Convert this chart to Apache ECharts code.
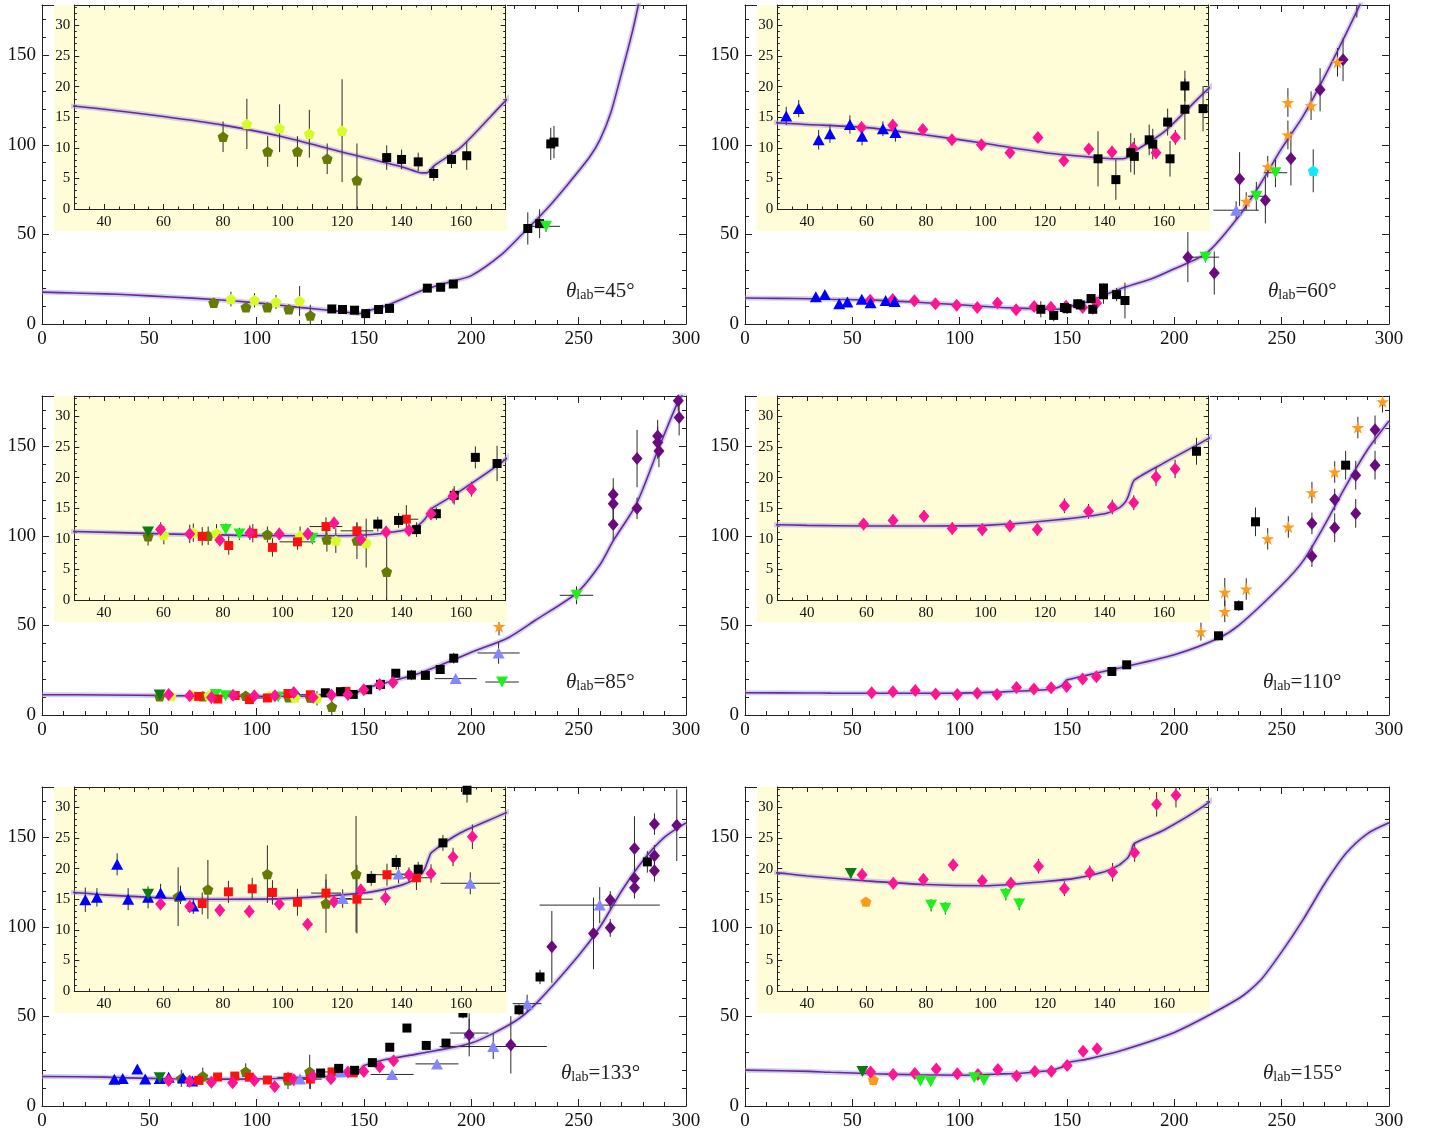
<!DOCTYPE html>
<html><head><meta charset="utf-8">
<script src="https://cdn.jsdelivr.net/npm/echarts@6/dist/echarts.min.js"></script>
<style>html,body{margin:0;padding:0;background:#fff}#c{width:1434px;height:1140px}</style>
</head><body><div id="c"></div>
<script>
// ---------- DATA: [x, y, yErr, xErr] ----------
// 45 deg
const t45_olive  = [[80,11.8,2.5],[95,9.4,2.5],[105,9.4,2.5],[115,8.2,2.5],[125,4.7,6]];
const t45_ygreen = [[88,13.9,4.1],[99,13.2,3.9],[109,12.3,3.9],[120,12.8,8.4]];
const t45_black  = [[135,8.4,2],[140,8.1,1.6],[145.6,7.7,1.5],[150.8,5.8,1.2],[156.8,8.1,1.4],[161.9,8.7,2.3],[179.5,20,1.5],[185.7,20.5,1.8],[191.6,22.3,2.2],[226.3,53.3,9],[231.8,56,8],[237,100.5,9],[238.5,101.5,9]];
const t45_lime   = [[234.8,54.5,3,6.5]];
const c45 = [[0,17.8],[15,17.3],[30,16.8],[40,16.3],[60,15.1],[80,13.7],[100,11.8],[120,9.3],[140,6.9],[145,6.1],[147,5.9],[148.5,5.9],[149.5,6.3],[151,7.1],[160,10.1],[175,17.7],[180,19.9],[190,23.5],[200,27],[214,38.7],[224,50.5],[235,64],[245,78],[255,93],[260,103],[265,118],[270,140],[275,163],[280,190]];
// 60 deg
const t60_blue   = [[33,15.2,1.5],[37.2,16.4,1.4],[43.9,11.3,1.6],[47.7,12.3,1.5],[54.4,13.8,1.5],[58.5,11.9,1.5],[65.5,13.1,1.2],[69.7,12.5,1.5]];
const t60_pink   = [[58.3,13.3,1],[68.8,13.7,1],[78.9,13,0.8],[88.7,11.3,0.8],[98.6,10.5,0.8],[108.2,9.2,0.8],[117.6,11.7,0.8],[126.3,7.9,0.8],[134.7,9.8,0.8],[142.5,9.3,1],[149.6,9.9,1],[157.3,9.2,1],[163.8,11.7,1.2]];
const t60_black  = [[137.8,8.2,4.5],[143.8,4.8,3.3],[148.8,9.2,3.2],[150,8.6,3],[155,11.3,2.5],[156.2,10.6,2.5],[161.2,14.2,2.2],[162,8.2,2.9],[167,20.1,2.5],[167,16.3,5],[173.1,16.4,3.7],[177,13.1,10]];
const t60_purple = [[206.3,37.3,14],[218.6,28.4,12],[230.4,80.9,15],[242.4,69.1,13],[254.3,92.3,15],[267.9,130.7,12],[278.6,147.5,12]];
const t60_lblue  = [[228.8,63.5,5,10.6]];
const t60_lime   = [[214.5,37.3,3,6.4],[238.2,71.3,8,4],[247.1,84.4,8,5.5]];
const t60_orange = [[233.5,68.5,5],[243.5,87.8,6],[252.9,123.6,8],[252.9,105.5,8],[263.7,121.8,8],[276,146,8],[285,179,8]];
const t60_cyan   = [[264.7,85.5,12]];
const c60 = [[0,14.5],[15,14.3],[30,14.1],[40,13.8],[60,13.3],[80,12.1],[100,10.7],[120,9.2],[140,8.3],[145,8.2],[147,8.3],[148.5,8.7],[150,9.4],[160,12.6],[175,19.7],[190,25.5],[200,30.8],[215,39.5],[230,60],[240,78],[250,98],[260,116],[270,138],[280,162],[288,182]];
// 85 deg
const t85_olive  = [[54.8,10.4,1.5],[75,10.5,1.5],[94.9,10.7,1.3],[114.9,9.9,2],[125,9.7,3],[135,4.6,7]];
const t85_ygreen = [[60.1,10.6,1.5],[70,11,1.5],[77.8,10.9,1.5],[105.9,10.5,1.5],[117.9,9.7,2],[128.1,9.3,4]];
const t85_dgreen = [[54.8,11.1,0.8]];
const t85_lime   = [[80.9,11.5,1],[85.5,10.8,1],[110,10.1,1],[214.3,18.4,2,7.8],[249,66.8,5,7.8]];
const t85_red    = [[73,10.4,1.5],[81.9,8.9,1.5],[90,10.9,1.5],[96.6,8.6,1.5],[105,9.5,1.3,6],[114.6,12,1.5,5.5],[125,11.3,1.3,5.5],[141.6,13.2,2.3,4]];
const t85_pink   = [[59,11.5,1.2],[68.8,10.8,1.5],[78.9,9.8,1],[89,11,1.2],[98.9,10.8,1],[108.5,10.8,1],[117.3,12.6,1],[126.3,9.9,1],[134.8,11.1,1],[142.5,11.4,1],[149.9,14.1,1],[157.3,17,1.2],[163.5,18.1,1.2]];
const t85_black  = [[132,12.4,1.2],[139,13,1.2],[145,11.5,1.2],[151.7,14.1,1],[157.7,17.1,1.5],[164.8,23.3,1.8],[172.1,22.3,2.9],[178.6,22.1,1.5],[185.5,25.4,2],[191.8,31.7,3]];
const t85_lblue  = [[192.7,20.3,2,9.8],[212.7,34.6,6,9.8]];
const t85_orange = [[212.9,49.4,5]];
const t85_purple = [[266.1,123.1,9],[266.1,117.9,9],[266.1,106.3,9],[277.2,143.1,16],[277.2,115.3,6],[286.8,155.7,9],[286.8,152,9],[287.4,147.3,9],[296.4,175.3,6],[296.8,166,10]];
const c85 = [[0,11.3],[30,11.2],[60,10.8],[100,10.5],[120,10.5],[130,10.7],[140,11.3],[145,12],[148,13.3],[149.5,14.6],[150,14.9],[160,17.9],[175,23],[190,30],[200,35],[217,43],[230,53],[249,68],[260,84],[266,97],[277,118],[287,148],[296,174],[300,182]];
// 110 deg
const t110_pink   = [[59,12.4,1],[68.9,13,1],[79.3,13.7,1],[88.8,11.7,1],[98.9,11.5,1],[108.2,12.1,1],[117.4,11.5,1],[126.5,15.4,1.2],[134.6,14.5,1.2],[142.6,15.2,1.2],[149.8,15.9,1.2],[157.3,20.1,1.5],[163.7,21.4,1.5]];
const t110_black  = [[170.9,24.3,2.2],[177.8,28,1.5],[220.6,44.2,2],[230,61,3],[237.8,107.8,8],[279.8,139.4,8]];
const t110_orange = [[212.4,46.5,5],[223.5,68.5,8],[223.5,57.8,6],[233.5,70.3,6],[243.5,98.3,6],[253.1,104.9,6],[264.1,124.1,6],[274.7,135.6,6],[285.5,160.4,6],[297,174.8,6]];
const t110_purple = [[264.1,88.6,6],[264.1,106.9,6],[274.7,120.3,6],[274.7,104.5,8],[284.5,133.8,8],[284.5,112.5,8],[293.5,159.1,8],[293.5,139.4,8]];
const c110 = [[0,12.4],[30,12.3],[40,12.2],[60,12.1],[80,12.1],[100,12.2],[120,12.9],[140,14.1],[145,15.1],[147,16],[148,17],[149,18.5],[150,19.6],[160,22.4],[175,26.4],[200,33.6],[220,42.5],[230,50],[250,72.4],[260,86],[270,106],[280,128],[290,148],[300,164]];
// 133 deg
const t133_blue   = [[33.7,14.9,2],[37.6,15.3,1.5],[44.4,20.7,1.8],[48.1,15,1.8],[54.8,15.3,1.8],[59,16,1.5],[65.7,15.7,1.5],[70,13.9,1.3]];
const t133_dgreen = [[54.8,15.8,0.8]];
const t133_olive  = [[64.9,15.4,4.8],[74.9,16.6,4.8],[94.9,19.1,4.7],[114.6,14.3,4.8],[124.7,19.1,9.5]];
const t133_red    = [[73,14.3,1.8],[81.8,16.2,1.8],[89.8,16.7,1.8],[96.6,16.1,2],[105,14.5,2.2],[114.6,16,2.2,5],[125,15,5.6,5.3],[135.1,19,1.8,5.6],[145,18.5,2,5]];
const t133_pink   = [[59,14.2,1],[68.8,13.8,1],[78.9,13.2,1],[88.8,13,1],[98.9,14.2,1],[108.4,10.9,1],[117.3,14.6,1],[126.3,16.5,1],[134.6,15.2,1.2],[142.5,19,1.2],[149.9,19.2,1.5],[157.3,21.9,1.5],[163.8,25.2,2]];
const t133_lblue  = [[120.2,15.1,1.5,3],[139,19.1,1.5,3],[163.1,17.6,1.8,10],[184,23.5,2,10],[199,40.7,8,9],[210.2,33.2,7,25],[226,57.1,5,6.7],[259.8,112.1,10,28]];
const t133_black  = [[129.8,18.4,1.2],[138.2,21,1.2],[145.6,19.9,1.2],[153.9,24.2,1.3],[162,32.8,2],[170,43.5,2],[179,33.8,2],[188.2,35.1,2],[196.1,51.9,3],[222.2,53.7,3],[232,72,4],[282,136.2,6]];
const t133_purple = [[199,39.7,12],[218.4,34.1,16],[237.5,88.8,20],[256.9,96.3,20],[264.7,114.9,5],[264.7,99.4,5],[276,143.7,18],[276,126.9,6],[276,121.8,6],[285.3,157.3,6],[285.3,139.6,6],[285.3,131.2,6],[295.7,156.7,20]];
const c133 = [[0,16.5],[30,16.1],[40,15.7],[60,15.2],[80,15],[100,15.1],[120,15.7],[130,16.2],[140,17.3],[145,18.4],[147,19.3],[148,20.2],[149,21.5],[150,22.6],[160,25.9],[175,29.1],[200,35.1],[220,47],[230,57],[250,84],[260,100],[270,120],[280,137],[290,150],[300,158]];
// 155 deg
const t155_dgreen = [[54.7,19.2,0.8]];
const t155_opent  = [[59.8,14.6,0]];
const t155_pink   = [[58.5,19,1],[69,17.6,1],[79.1,18.2,1],[89.1,20.6,1],[98.9,18,1],[108.5,17.6,1],[117.8,20.4,1.2],[126.5,16.7,1.2],[135,19.3,1.2],[142.7,19.4,1.5],[150.1,22.6,1.5],[157.5,30.5,2],[164,32,2]];
const t155_lime   = [[81.7,14,1],[86.5,13.5,1],[106.8,15.8,1],[111.3,14.2,1]];
const c155 = [[0,20],[30,19.3],[40,18.8],[60,18],[80,17.4],[100,17.2],[120,17.9],[130,18.4],[140,19.5],[145,20.6],[147,21.4],[148,21.9],[149,22.9],[150,24.1],[160,26.3],[175,30.8],[200,41],[230,60],[240,70],[250,86],[260,104],[270,124],[280,141],[290,152],[300,158]];

// ---------- STYLES ----------
const PENT = 'path://M0,-1L0.9511,-0.309L0.5878,0.809L-0.5878,0.809L-0.9511,-0.309Z';
const STAR = 'path://M0,-1L0.2245,-0.309L0.9511,-0.309L0.3633,0.118L0.5878,0.809L0,0.382L-0.5878,0.809L-0.3633,0.118L-0.9511,-0.309L-0.2245,-0.309Z';
const STY = {
  olive:  {sym:PENT, size:[11,11], color:'#677a02'},
  ygreen: {sym:PENT, size:[11,11], color:'#d8fb2c'},
  black:  {sym:'rect', size:[9,9], color:'#000000'},
  red:    {sym:'rect', size:[9,9], color:'#ff1010'},
  pink:   {sym:'diamond', size:[11,13], color:'#ff1493'},
  purple: {sym:'diamond', size:[11,13], color:'#6a0c7e'},
  blue:   {sym:'triangle', size:[12,11], color:'#0000ff'},
  lblue:  {sym:'triangle', size:[12,11], color:'#8585ff'},
  lime:   {sym:'triangle', size:[12,11], rot:180, color:'#1ef01e'},
  dgreen: {sym:'triangle', size:[12,11], rot:180, color:'#0f7a14'},
  orange: {sym:STAR, size:[13,13], color:'#ff9a1c'},
  cyan:   {sym:PENT, size:[11,11], color:'#12e8ff'},
  opent:  {sym:PENT, size:[11,11], color:'#ff9a1c'}
};

const panels = [
  {th:'45', col:0, row:0, tx:566, curve:c45, sets:[['olive',t45_olive],['ygreen',t45_ygreen],['black',t45_black],['lime',t45_lime]]},
  {th:'60', col:1, row:0, tx:1268, curve:c60, sets:[['pink',t60_pink],['blue',t60_blue],['black',t60_black],['purple',t60_purple],['lblue',t60_lblue],['lime',t60_lime],['orange',t60_orange],['cyan',t60_cyan]]},
  {th:'85', col:0, row:1, tx:566, curve:c85, sets:[['olive',t85_olive],['ygreen',t85_ygreen],['dgreen',t85_dgreen],['lime',t85_lime],['red',t85_red],['black',t85_black],['pink',t85_pink],['lblue',t85_lblue],['orange',t85_orange],['purple',t85_purple]]},
  {th:'110', col:1, row:1, tx:1263, curve:c110, sets:[['pink',t110_pink],['black',t110_black],['orange',t110_orange],['purple',t110_purple]]},
  {th:'133', col:0, row:2, tx:561, curve:c133, sets:[['olive',t133_olive],['blue',t133_blue],['dgreen',t133_dgreen],['red',t133_red],['pink',t133_pink],['lblue',t133_lblue],['black',t133_black],['purple',t133_purple]]},
  {th:'155', col:1, row:2, tx:1263, curve:c155, sets:[['dgreen',t155_dgreen],['opent',t155_opent],['pink',t155_pink],['lime',t155_lime]]}
];

// ---------- LAYOUT ----------
const COLS = [42, 745], ROWS = [5, 396, 787];
const W = 644, H = 319, IOFF = 32.3, IW = 431.4, IH = 204;
const grid = [], xAxis = [], yAxis = [], series = [], graphic = [], title = [];
const FONT = 'Liberation Serif';

function makeAxis(gi, pos, isX, inset, showLabel) {
  const r = isX ? (inset ? [30,175] : [0,300]) : (inset ? [0,33.33] : [0,178]);
  const step = isX ? (inset ? 10 : 50) : (inset ? 5 : 50);
  const lab = isX ? (inset ? 20 : 50) : (inset ? 5 : 50);
  return {
    type:'value', gridIndex:gi, position:pos, min:r[0], max:r[1], interval:step,
    z: inset ? 6 : 1,
    axisLine:{show:true, onZero:false, lineStyle:{color:'#222', width:1}},
    axisTick:{show:true, inside:true, length: inset ? 5 : 7, lineStyle:{color:'#222', width:1}},
    minorTick:{show:true, splitNumber: isX ? (inset ? 2 : 5) : 5, length: inset ? 2.5 : 4, lineStyle:{color:'#222', width:1}},
    splitLine:{show:false}, minorSplitLine:{show:false},
    axisLabel:{show:showLabel, fontFamily:FONT, fontSize: inset ? 15 : 19, color:'#111', fontWeight:'normal',
      margin: isX ? 6 : (inset ? 4 : 6),
      formatter: v => { const q = v / lab; return Math.abs(q - Math.round(q)) < 1e-6 ? String(Math.round(v)) : ''; }}
  };
}

function addGrid(left, top, w, h, inset) {
  const gi = grid.length;
  grid.push({left:left, top:top, width:w, height:h});
  const xi = xAxis.length, yi = yAxis.length;
  xAxis.push(makeAxis(gi, 'bottom', true, inset, true));
  xAxis.push(makeAxis(gi, 'top', true, inset, false));
  yAxis.push(makeAxis(gi, 'left', false, inset, true));
  yAxis.push(makeAxis(gi, 'right', false, inset, false));
  return {xi, yi};
}

function renderErr(params, api) {
  const x = api.value(0), y = api.value(1), dy = api.value(2) || 0, dx = api.value(3) || 0;
  const cs = params.coordSys;
  const x0 = cs.x, x1 = cs.x + cs.width, y0 = cs.y, y1 = cs.y + cs.height;
  const ch = [];
  const p = api.coord([x, y]);
  const st = {stroke:'#2a2a2a', lineWidth:1};
  if (dy > 0 && p[0] >= x0 && p[0] <= x1) {
    const a = api.coord([x, y + dy]), b = api.coord([x, y - dy]);
    const ya = Math.max(Math.min(a[1], b[1]), y0), yb = Math.min(Math.max(a[1], b[1]), y1);
    if (ya < yb) ch.push({type:'line', shape:{x1:p[0], y1:ya, x2:p[0], y2:yb}, style:st});
  }
  if (dx > 0 && p[1] >= y0 && p[1] <= y1) {
    const a = api.coord([x - dx, y]), b = api.coord([x + dx, y]);
    const xa = Math.max(Math.min(a[0], b[0]), x0), xb = Math.min(Math.max(a[0], b[0]), x1);
    if (xa < xb) ch.push({type:'line', shape:{x1:xa, y1:p[1], x2:xb, y2:p[1]}, style:st});
  }
  return {type:'group', children:ch};
}

function addSeries(ax, inset, p) {
  const zb = inset ? 7 : 2;
  const common = {type:'line', xAxisIndex:ax.xi, yAxisIndex:ax.yi, data:p.curve, showSymbol:false, silent:true, clip:true,
    smooth:0.25};
  series.push(Object.assign({}, common, {z:zb, lineStyle:{width:5, color:'rgba(160,165,215,0.5)'}}));
  series.push(Object.assign({}, common, {z:zb+1, lineStyle:{width:1.6, color:'#6f239f'}}));
  p.sets.forEach(([k, d]) => {
    const s = STY[k];
    series.push({type:'custom', xAxisIndex:ax.xi, yAxisIndex:ax.yi, silent:true, z:zb+1,
      data:d.map(v => [v[0], v[1], v[2] || 0, v[3] || 0]), encode:{x:0, y:1}, renderItem:renderErr});
    series.push({type:'scatter', xAxisIndex:ax.xi, yAxisIndex:ax.yi, silent:true, clip:true, z:zb+2,
      data:d.map(v => [v[0], v[1]]), symbol:s.sym, symbolSize:s.size, symbolRotate:s.rot || 0, symbolKeepAspect:true,
      itemStyle:{color:s.color, opacity:1}});
  });
}

panels.forEach(p => {
  const L = COLS[p.col], T = ROWS[p.row];
  const m = addGrid(L, T, W, H, false);
  addSeries(m, false, p);
  graphic.push({type:'rect', silent:true, z:5, shape:{x:L + 12, y:T, width:453, height:226}, style:{fill:'#fffdd8'}});
  const ins = addGrid(L + IOFF, T, IW, IH, true);
  addSeries(ins, true, p);
  const base = {fontFamily:FONT, fontWeight:'normal', color:'#222', lineHeight:26, verticalAlign:'bottom'};
  title.push({text:'{t|θ}{s|lab}{e|=' + p.th + '°}', left:p.tx, top:T + 271, padding:0, z:12,
    textStyle:{fontWeight:'normal', fontFamily:FONT, rich:{
      t:Object.assign({}, base, {fontStyle:'italic', fontSize:21}),
      s:Object.assign({}, base, {fontSize:14}),
      e:Object.assign({}, base, {fontSize:21})
    }}});
});

const chart = echarts.init(document.getElementById('c'), null, {renderer:'canvas'});
chart.setOption({animation:false, backgroundColor:'#ffffff', grid, xAxis, yAxis, series, graphic:{elements:graphic}, title});
</script>
</body></html>
